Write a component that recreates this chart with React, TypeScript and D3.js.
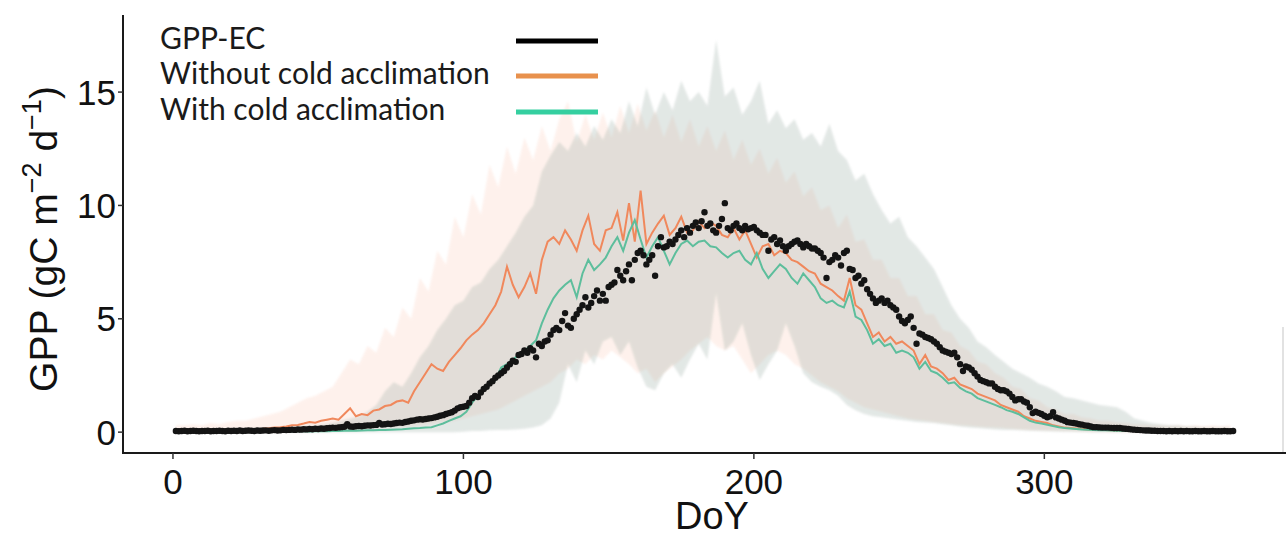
import React from "react";
import * as d3 from "d3";

// ---- Data ----
// Daily GPP-EC observations, DoY 1..365
const EC = [
  0.05,0.04,0.05,0.06,0.04,0.05,0.06,0.05,0.04,0.05,
  0.05,0.06,0.04,0.05,0.05,0.06,0.05,0.04,0.06,0.05,
  0.06,0.05,0.07,0.05,0.06,0.07,0.06,0.05,0.07,0.06,
  0.07,0.08,0.06,0.08,0.09,0.07,0.08,0.1,0.09,0.1,
  0.11,0.1,0.12,0.11,0.13,0.12,0.14,0.13,0.15,0.14,
  0.16,0.15,0.17,0.18,0.2,0.19,0.21,0.22,0.24,0.35,
  0.25,0.24,0.26,0.27,0.26,0.28,0.3,0.29,0.31,0.32,
  0.4,0.34,0.35,0.37,0.36,0.38,0.4,0.42,0.41,0.45,
  0.47,0.5,0.52,0.55,0.57,0.56,0.58,0.6,0.62,0.65,
  0.68,0.72,0.75,0.8,0.84,0.88,0.95,1.05,1.1,1.12,
  1.15,1.3,1.5,1.6,1.55,1.75,1.9,2.0,2.15,2.25,
  2.4,2.5,2.6,2.7,2.85,3.0,3.15,3.1,3.4,3.45,
  3.6,3.5,3.7,3.6,3.3,3.9,3.8,4.0,4.05,4.3,
  4.5,4.6,4.5,4.9,5.25,4.7,4.6,5.0,5.2,5.4,
  5.6,5.95,5.5,5.7,6.0,6.25,5.8,6.1,5.8,6.4,
  6.5,6.6,7.15,6.9,6.7,7.1,7.4,6.7,7.6,7.9,
  8.0,7.8,7.4,7.6,7.8,6.9,8.2,8.6,8.15,8.2,
  8.4,8.3,8.5,8.7,8.9,8.6,9.0,8.8,9.1,9.25,
  9.0,9.3,9.7,9.1,9.2,8.9,8.8,9.1,9.4,10.1,
  9.0,8.9,9.1,9.2,9.0,8.9,9.1,8.95,9.0,9.05,
  8.9,8.8,8.7,8.7,8.0,8.5,8.6,8.3,8.45,8.2,
  8.0,8.2,8.3,8.4,8.45,8.3,8.15,8.3,8.2,8.1,
  8.1,8.0,7.9,7.7,6.8,7.5,7.6,7.8,7.7,7.35,
  7.9,8.0,7.2,7.15,6.8,6.9,6.55,6.7,6.3,6.1,
  5.9,5.7,5.8,5.9,5.7,5.8,5.6,5.5,5.4,5.1,
  4.9,4.8,4.95,5.1,4.6,3.9,4.35,4.3,4.2,4.15,
  4.1,4.0,3.9,3.75,3.6,3.55,3.5,3.45,3.5,3.3,
  3.0,2.7,2.9,2.85,2.75,2.6,2.45,2.3,2.25,2.2,
  2.15,2.15,2.0,1.9,1.85,1.85,1.8,1.7,1.55,1.4,
  1.45,1.45,1.35,1.3,1.1,0.84,0.9,0.85,0.8,0.72,
  0.66,0.7,0.88,0.65,0.6,0.55,0.5,0.44,0.42,0.4,
  0.38,0.35,0.33,0.3,0.28,0.25,0.22,0.22,0.21,0.2,
  0.2,0.2,0.19,0.18,0.18,0.18,0.16,0.15,0.14,0.12,
  0.11,0.1,0.09,0.08,0.07,0.07,0.06,0.06,0.05,0.05,
  0.05,0.04,0.05,0.04,0.05,0.04,0.05,0.04,0.05,0.04,
  0.04,0.05,0.04,0.04,0.05,0.04,0.04,0.05,0.04,0.04,
  0.04,0.05,0.04,0.04,0.05,
];

// Model means, every 2nd DoY (1,3,...,365)
const WITHOUT_MEAN = [
  0.05,0.06,0.05,0.07,0.06,0.08,0.07,0.09,0.08,0.1,
  0.1,0.12,0.11,0.13,0.14,0.15,0.17,0.2,0.22,0.25,
  0.3,0.32,0.38,0.45,0.42,0.5,0.55,0.6,0.55,0.8,
  1.05,0.7,0.8,0.75,0.95,1.0,1.15,1.2,1.35,1.4,
  1.3,1.8,2.2,2.6,3.0,2.8,2.7,3.1,3.4,3.7,
  4.05,4.3,4.5,4.8,5.2,5.6,6.2,7.3,6.5,5.95,
  6.4,7.0,6.1,7.6,8.4,8.6,8.3,8.9,8.5,8.0,
  8.9,9.55,8.3,8.0,8.9,9.0,9.7,8.45,10.1,8.4,
  10.65,8.3,8.8,9.2,9.55,8.7,9.0,9.5,8.8,8.9,
  9.3,9.0,9.25,9.1,8.7,8.6,9.0,8.5,8.9,8.3,
  7.7,8.2,8.3,7.8,8.0,7.9,7.6,7.5,7.3,7.1,
  7.0,6.55,6.4,6.25,6.0,5.8,6.8,5.6,5.4,4.8,
  4.2,4.4,4.0,4.2,3.9,4.0,3.8,3.6,3.0,3.4,
  2.9,2.8,2.6,2.3,2.4,2.1,2.0,1.9,1.7,1.6,
  1.5,1.4,1.2,1.1,1.0,0.9,0.7,0.6,0.5,0.45,
  0.4,0.3,0.25,0.2,0.18,0.16,0.14,0.12,0.1,0.1,
  0.09,0.08,0.07,0.07,0.06,0.05,0.05,0.05,0.04,0.05,
  0.04,0.04,0.05,0.04,0.04,0.03,0.04,0.04,0.03,0.04,
  0.04,0.03,0.04,
];
const WITH_MEAN = [
  0.03,0.03,0.02,0.03,0.02,0.03,0.02,0.03,0.03,0.02,
  0.03,0.02,0.03,0.02,0.03,0.03,0.02,0.03,0.03,0.04,
  0.03,0.04,0.04,0.03,0.04,0.05,0.04,0.05,0.05,0.06,
  0.07,0.06,0.07,0.08,0.08,0.09,0.1,0.11,0.12,0.13,
  0.15,0.17,0.18,0.2,0.22,0.3,0.38,0.5,0.6,0.7,
  0.9,1.3,1.6,1.9,2.1,2.3,2.85,3.0,3.2,3.4,
  3.6,3.8,4.05,4.8,5.4,5.9,6.25,6.5,6.7,5.95,
  7.0,7.6,7.15,7.4,7.7,8.2,8.6,8.0,8.8,9.35,
  8.5,7.7,8.2,8.6,8.0,7.4,7.9,8.3,8.45,8.2,
  8.4,8.45,8.2,8.15,7.9,7.7,7.9,8.0,7.6,7.4,
  7.9,7.2,6.8,7.1,7.4,7.2,6.8,6.55,7.0,6.7,
  6.4,5.9,5.7,5.8,5.6,5.5,6.2,5.1,4.95,4.5,
  3.9,4.1,3.8,3.9,3.5,3.6,3.5,3.3,2.8,3.1,
  2.7,2.6,2.4,2.15,2.2,1.95,1.8,1.7,1.5,1.4,
  1.3,1.2,1.1,0.97,0.9,0.8,0.65,0.5,0.42,0.38,
  0.33,0.27,0.22,0.18,0.16,0.14,0.12,0.1,0.09,0.08,
  0.08,0.07,0.06,0.06,0.05,0.05,0.04,0.04,0.04,0.04,
  0.03,0.04,0.03,0.03,0.04,0.03,0.03,0.03,0.03,0.03,
  0.03,0.03,0.03,
];

// Model ranges, every 3rd DoY (1,4,...,364)
const WITHOUT_HI = [
  0.3,0.3,0.35,0.3,0.4,0.35,0.45,0.5,0.5,0.6,
  0.7,0.8,0.9,1.1,1.3,1.5,1.6,1.8,2.0,2.6,
  3.2,3.0,3.8,3.5,4.6,4.2,5.5,5.0,6.8,6.2,
  8.0,7.4,9.5,8.6,10.5,9.6,11.8,10.8,12.6,11.4,
  13.0,12.0,13.5,12.4,13.8,14.6,12.8,14.0,12.9,14.1,
  13.0,14.4,13.2,14.5,13.3,14.2,13.0,14.0,12.8,13.8,
  12.6,13.5,12.4,13.3,12.0,12.9,11.8,12.5,11.4,12.1,
  11.0,11.5,10.4,10.8,9.8,10.0,9.0,9.6,8.4,8.5,
  7.6,7.6,6.8,6.8,6.0,6.0,5.2,5.2,4.5,4.4,
  3.8,3.6,3.1,3.0,2.6,2.4,2.0,1.9,1.5,1.4,
  1.1,1.0,0.8,0.8,0.65,0.6,0.5,0.5,0.42,0.4,
  0.35,0.35,0.3,0.3,0.28,0.3,0.26,0.3,0.26,0.3,
  0.26,0.3,
];
const WITHOUT_LO = [
  0,0,0,0,0,0,0,0,0,0,
  0,0,0,0.01,0.02,0.03,0.04,0.05,0.06,0.08,
  0.1,0.12,0.14,0.16,0.18,0.2,0.22,0.25,0.3,0.35,
  0.4,0.45,0.5,0.6,0.7,0.8,0.9,1.0,1.2,1.4,
  1.6,1.8,2.0,2.2,2.6,2.8,3.2,3.0,3.4,3.2,
  3.6,3.3,3.0,2.6,2.8,2.2,2.6,2.9,3.2,3.6,
  3.9,4.2,3.8,3.6,3.8,3.2,2.6,3.0,3.4,3.6,
  3.4,3.0,2.8,2.5,2.2,2.0,1.8,1.5,1.3,1.1,
  1.0,0.9,0.8,0.7,0.6,0.55,0.5,0.45,0.4,0.35,
  0.3,0.28,0.25,0.22,0.2,0.18,0.15,0.12,0.1,0.08,
  0.07,0.06,0.05,0.04,0.03,0.02,0.02,0.01,0.01,0,
  0,0,0,0,0,0,0,0,0,0,
  0,0,
];
const WITH_HI = [
  0.1,0.1,0.12,0.1,0.12,0.1,0.12,0.14,0.12,0.15,
  0.15,0.18,0.2,0.2,0.25,0.3,0.3,0.35,0.4,0.5,
  0.6,0.7,0.9,1.2,1.8,2.2,2.0,2.6,3.3,3.8,
  4.5,5.0,5.6,5.8,6.4,6.6,7.2,7.6,8.2,8.8,
  9.5,10.0,11.5,12.2,12.8,12.4,13.2,12.6,13.5,12.9,
  13.8,13.2,14.6,13.5,15.2,14.0,15.0,14.2,15.5,14.6,
  15.0,14.4,17.3,14.8,15.2,14.0,14.6,15.5,13.6,14.2,
  13.4,13.8,12.9,13.2,12.6,13.6,12.4,12.0,11.1,11.4,
  10.5,9.8,9.2,9.5,8.6,8.2,7.7,7.2,6.4,5.6,
  5.0,4.6,4.0,3.75,3.4,3.1,2.8,2.6,2.4,2.15,
  2.0,1.8,1.55,1.5,1.4,1.3,1.2,1.15,1.1,0.9,
  0.6,0.5,0.4,0.35,0.3,0.3,0.25,0.25,0.2,0.2,
  0.2,0.2,
];
const WITH_LO = [
  0,0,0,0,0,0,0,0,0,0,
  0,0,0,0,0,0,0,0,0,0,
  0,0,0,0,0,0,0,0,0,0,
  0,0,0,0.02,0.05,0.05,0.08,0.1,0.1,0.12,
  0.15,0.2,0.3,0.6,1.3,3.0,2.2,3.6,3.0,4.0,
  4.2,3.4,4.0,2.85,2.0,1.85,2.6,3.0,2.4,3.2,
  3.9,3.2,6.1,3.6,4.0,4.8,3.4,2.3,3.0,3.6,
  4.8,3.8,2.6,2.2,2.0,1.85,1.6,1.2,0.97,0.8,
  0.7,0.66,0.6,0.55,0.5,0.45,0.42,0.4,0.35,0.3,
  0.25,0.2,0.18,0.15,0.12,0.1,0.1,0.08,0.06,0.05,
  0.04,0.03,0.02,0.02,0.01,0,0,0,0,0,
  0,0,0,0,0,0,0,0,0,0,
  0,0,
];

const X_TICKS = [0, 100, 200, 300];
const Y_TICKS = [0, 5, 10, 15];
const LEGEND = ["GPP-EC", "Without cold acclimation", "With cold acclimation"];

const W = 1286;
const H = 539;

export default function App() {
  const x = d3.scaleLinear().domain([-17.2, 383.2]).range([123, 1286]);
  const y = d3.scaleLinear().domain([-0.92, 18.4]).range([453, 15]);

  const mean2 = (arr: number[]) => arr.map((v, i) => ({ d: 1 + 2 * i, v }));
  const rib3 = (lo: number[], hi: number[]) =>
    hi.map((v, i) => ({ d: 1 + 3 * i, lo: lo[i] ?? 0, hi: v }));

  const area = d3
    .area<{ d: number; lo: number; hi: number }>()
    .x((p) => x(p.d))
    .y0((p) => y(p.lo))
    .y1((p) => y(p.hi));
  const line = d3
    .line<{ d: number; v: number }>()
    .x((p) => x(p.d))
    .y((p) => y(p.v));

  const legendColors = ["#000000", "#E8914D", "#35CFA0"];
  const legendY = [41, 76, 112];

  return (
    <svg
      width={W}
      height={H}
      style={{ position: "absolute", left: 0, top: 0, background: "#fff" }}
      fontFamily="'Liberation Sans', Arial, sans-serif"
    >
      <defs>
        <clipPath id="panel">
          <rect x={123} y={15} width={1163} height={438} />
        </clipPath>
        <filter id="soft" x="-5%" y="-5%" width="110%" height="110%">
          <feGaussianBlur stdDeviation="1.2" />
        </filter>
      </defs>
      <rect width={W} height={H} fill="#fff" />
      <g clipPath="url(#panel)">
        <path d={area(rib3(WITHOUT_LO, WITHOUT_HI)) || ""} fill="#F9A07E" opacity={0.14} filter="url(#soft)" />
        <path d={area(rib3(WITH_LO, WITH_HI)) || ""} fill="#98ABA3" opacity={0.27} filter="url(#soft)" />
        <path d={line(mean2(WITHOUT_MEAN)) || ""} fill="none" stroke="#F0885C" strokeWidth={2} />
        <path d={line(mean2(WITH_MEAN)) || ""} fill="none" stroke="#5DBE9C" strokeWidth={2} />
        {EC.map((v, i) => (
          <circle key={i} cx={x(i + 1)} cy={y(v)} r={3.2} fill="#141414" />
        ))}
      </g>
      {/* right edge faint border */}
      <line x1={1283} x2={1283} y1={327} y2={452} stroke="#d8d8d8" strokeWidth={1.5} />
      {/* axes */}
      <line x1={123} x2={123} y1={15} y2={454} stroke="#1a1a1a" strokeWidth={2} />
      <line x1={122} x2={1286} y1={453} y2={453} stroke="#1a1a1a" strokeWidth={2.2} />
      {Y_TICKS.map((t) => (
        <g key={t}>
          <line x1={118} x2={123} y1={y(t)} y2={y(t)} stroke="#333" strokeWidth={1.5} />
          <text x={116} y={y(t)} dy="0.36em" textAnchor="end" fontSize={35} fill="#111">
            {t}
          </text>
        </g>
      ))}
      {X_TICKS.map((t) => (
        <g key={t}>
          <line x1={x(t)} x2={x(t)} y1={453} y2={459} stroke="#333" strokeWidth={1.5} />
          <text x={x(t)} y={494} textAnchor="middle" fontSize={35} fill="#111">
            {t}
          </text>
        </g>
      ))}
      <text x={712} y={529} textAnchor="middle" fontSize={38} fill="#111">
        DoY
      </text>
      <text
        transform="translate(57,239) rotate(-90)"
        textAnchor="middle"
        fontSize={39}
        fill="#111"
      >
        GPP (gC m
        <tspan fontSize={27} dy={-16}>−2</tspan>
        <tspan dy={16}> d</tspan>
        <tspan fontSize={27} dy={-16}>−1</tspan>
        <tspan dy={16}>)</tspan>
      </text>
      {/* legend */}
      {LEGEND.map((l, i) => (
        <g key={l}>
          <text x={160} y={legendY[i] + 8} fontSize={30} fontFamily="Lato, sans-serif" fill="#1a1a1a">
            {l}
          </text>
          <line x1={516} x2={598} y1={legendY[i]} y2={legendY[i]} stroke={legendColors[i]} strokeWidth={5} />
        </g>
      ))}
    </svg>
  );
}
